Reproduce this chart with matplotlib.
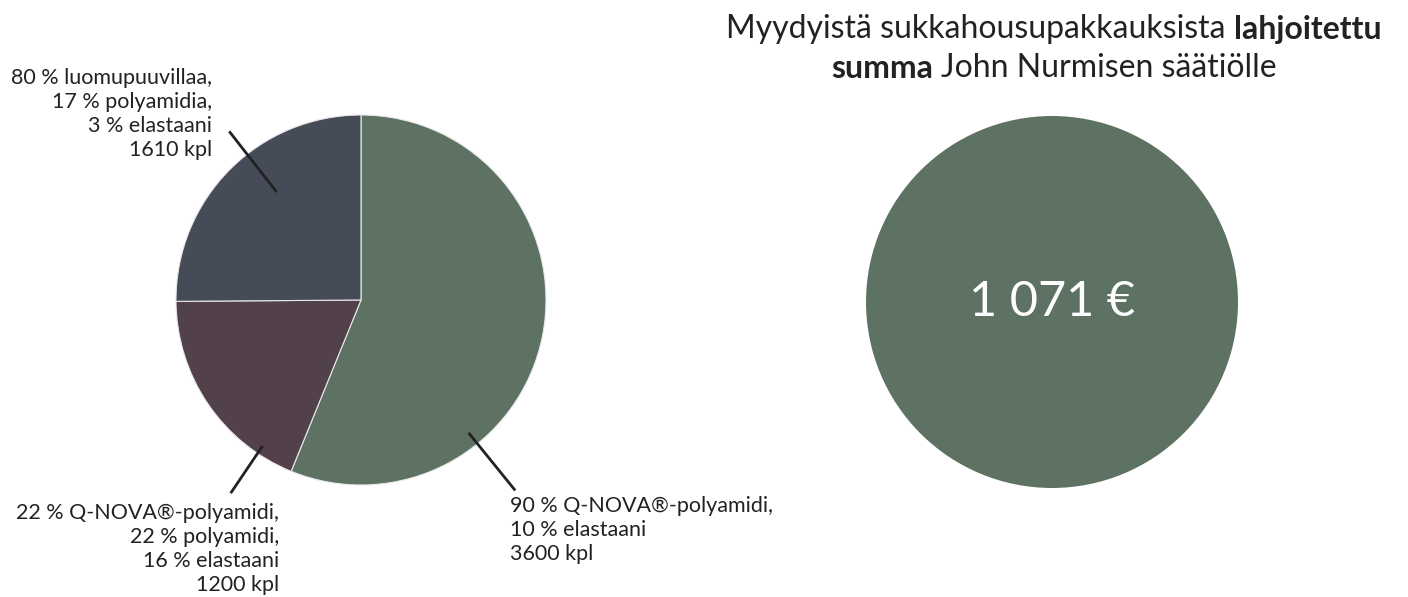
import matplotlib
matplotlib.use('Agg')
import matplotlib.pyplot as plt
import numpy as np

# data
counts = [3600, 1200, 1610]
labels = ['90 % Q-NOVA®-polyamidi,\n10 % elastaani\n3600 kpl',
          '22 % Q-NOVA®-polyamidi,\n22 % polyamidi,\n16 % elastaani\n1200 kpl',
          '80 % luomupuuvillaa,\n17 % polyamidia,\n3 % elastaani\n1610 kpl']
colors = ['#5d7262', '#52404a', '#454c58']
donation = '1 071 €'
title_lines = [[('Myydyistä sukkahousupakkauksista', 'normal'), ('lahjoitettu', 'bold')],
               [('summa', 'bold'), ('John Nurmisen säätiölle', 'normal')]]

W, H = 1408, 597
plt.rcParams['font.family'] = ['Lato', 'DejaVu Sans']
TXT = '#222222'

fig = plt.figure(figsize=(W / 100, H / 100), dpi=100)
ax = fig.add_axes([0, 0, 1, 1])

# pie, centre and radius in pixel units (y measured from bottom)
pc = (361, H - 300)
R = 185
wedges, _ = ax.pie(counts, colors=colors, startangle=90, counterclock=False,
                   center=pc, radius=R,
                   wedgeprops=dict(edgecolor='#e8e8e8', linewidth=0.8))

# leader lines: (angle deg, r inner, r outer), label anchor, alignment
leaders = [(-51, 171, 245), (-124, 176, 233), (128, 137, 214)]
label_pos = [((510, 496), 'left'), ((279, 503), 'right'), ((212, 68), 'right')]
for (ang, r0, r1), lab, ((lx, ly), ha) in zip(leaders, labels, label_pos):
    a = np.deg2rad(ang)
    ax.plot([pc[0] + r0 * np.cos(a), pc[0] + r1 * np.cos(a)],
            [pc[1] + r0 * np.sin(a), pc[1] + r1 * np.sin(a)],
            color=TXT, lw=2, solid_capstyle='butt')
    ax.text(lx, H - ly, lab, ha=ha, va='top', fontsize=15.5, color=TXT,
            linespacing=1.24, multialignment=ha)

# donation circle
cc = (1052, H - 302)
ax.add_patch(plt.Circle(cc, 186, color=colors[0], lw=0))
ax.text(cc[0], cc[1], donation, ha='center', va='center', fontsize=35,
        color='white')

ax.set_xlim(0, W)
ax.set_ylim(0, H)
ax.set_aspect('equal')
ax.axis('off')

# title with mixed weights
renderer = fig.canvas.get_renderer()
tfs = 23
def width(s, weight):
    t = ax.text(0, 0, s, fontsize=tfs, fontweight=weight)
    w = t.get_window_extent(renderer).width
    t.remove()
    return w
space = width('a a', 'normal') - width('aa', 'normal')
for line, y in zip(title_lines, [29, 68]):
    ws = [width(s, wt) for s, wt in line]
    total = sum(ws) + space * (len(line) - 1)
    x = 1054 - total / 2
    for (s, wt), w in zip(line, ws):
        ax.text(x, H - y, s, fontsize=tfs, fontweight=wt, color=TXT,
                ha='left', va='center')
        x += w + space

fig.savefig('out.png', dpi=100)
